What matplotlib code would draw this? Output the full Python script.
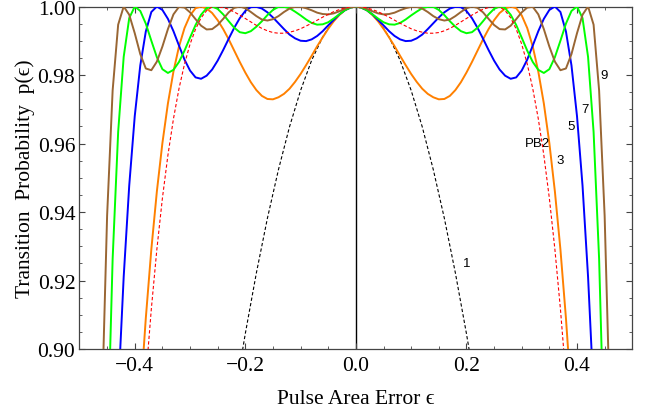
import numpy as np
import matplotlib.pyplot as plt
from matplotlib.ticker import MultipleLocator, FormatStrFormatter, FuncFormatter

plt.rcParams['font.family'] = ['Liberation Serif', 'DejaVu Serif']

# transition probability for eps >= 0 (curves are symmetric in eps)
# single pulse, sampled every 0.02
p_1 = [1.0, 0.9990, 0.9961, 0.9911, 0.9843, 0.9755, 0.9649, 0.9524, 0.9382,
       0.9222, 0.9045, 0.8853]
# composite sequences, sampled every 0.01
p_3 = [1.0, 0.9997, 0.9989, 0.9975, 0.9957, 0.9935, 0.9910, 0.9884, 0.9856,
       0.9829, 0.9803, 0.9780, 0.9760, 0.9745, 0.9735, 0.9729, 0.9730, 0.9739,
       0.9756, 0.9779, 0.9807, 0.9838, 0.9871, 0.9904, 0.9934, 0.9960, 0.9981,
       0.9994, 1.0, 0.9995, 0.9974, 0.9937, 0.9883, 0.9810, 0.9717, 0.9601,
       0.9460, 0.9291, 0.9090, 0.8854]
p_5 = [1.0, 0.9997, 0.9989, 0.9977, 0.9961, 0.9945, 0.9928, 0.9914, 0.9904,
       0.9899, 0.9900, 0.9907, 0.9918, 0.9934, 0.9951, 0.9968, 0.9983, 0.9994,
       0.9999, 0.9998, 0.9987, 0.9966, 0.9938, 0.9906, 0.9873, 0.9842, 0.9816,
       0.9798, 0.9789, 0.9793, 0.9813, 0.9845, 0.9886, 0.9928, 0.9964, 0.9990,
       1.0, 0.9984, 0.9927, 0.9828, 0.9680, 0.9477, 0.9211, 0.8872]
p_7 = [1.0, 0.9997, 0.9989, 0.9977, 0.9965, 0.9954, 0.9948, 0.9947, 0.9952,
       0.9962, 0.9974, 0.9985, 0.9995, 0.9999, 0.9999, 0.9990, 0.9975, 0.9957,
       0.9941, 0.9928, 0.9922, 0.9925, 0.9938, 0.9957, 0.9977, 0.9993, 1.0,
       0.9995, 0.9976, 0.9946, 0.9909, 0.9871, 0.9838, 0.9815, 0.9806, 0.9817,
       0.9852, 0.9900, 0.9950, 0.9987, 1.0, 0.9966, 0.9853, 0.9634, 0.9263,
       0.8673]
p_9 = [1.0, 0.9998, 0.9993, 0.9986, 0.9980, 0.9977, 0.9978, 0.9982, 0.9989,
       0.9995, 0.9999, 0.9999, 0.9994, 0.9984, 0.9972, 0.9963, 0.9959, 0.9962,
       0.9972, 0.9984, 0.9995, 1.0, 0.9996, 0.9983, 0.9964, 0.9946, 0.9934,
       0.9933, 0.9944, 0.9963, 0.9983, 0.9997, 0.9999, 0.9977, 0.9934, 0.9883,
       0.9839, 0.9814, 0.9819, 0.9861, 0.9922, 0.9976, 1.0, 0.9947, 0.9755,
       0.9389, 0.8793]
p_pb2 = [1.0, 0.9999, 0.9996, 0.9991, 0.9985, 0.9977, 0.9969, 0.9960, 0.9951,
         0.9943, 0.9935, 0.9929, 0.9925, 0.9922, 0.9922, 0.9924, 0.9929, 0.9936,
         0.9945, 0.9955, 0.9965, 0.9975, 0.9984, 0.9992, 0.9997, 1.0, 0.9999,
         0.9988, 0.9967, 0.9934, 0.9890, 0.9832, 0.9760, 0.9672, 0.9566, 0.9440,
         0.9291, 0.9117, 0.8916]

labels = ['1', '3', 'PB2', '5', '7', '9']
label_eps = [0.201, 0.369, 0.329, 0.390, 0.414, 0.449]
label_p = [0.9251, 0.9552, 0.9601, 0.9650, 0.9701, 0.9800]


def mirror(p, step):
    p = np.asarray(p)
    e = np.arange(len(p)) * step
    return np.concatenate([-e[:0:-1], e]), np.concatenate([p[:0:-1], p])


fig = plt.figure(figsize=(6.65, 4.10), dpi=100)
ax = fig.add_axes([0.1195, 0.1463, 0.8313, 0.8354])

ax.axvline(0, color='black', lw=1.0, zorder=1)

x, y = mirror(p_1, 0.02)
ax.plot(x, y, color='black', lw=0.8, ls=(0, (3, 2)), zorder=2)
x, y = mirror(p_3, 0.01)
ax.plot(x, y, color='#FF8000', lw=1.4, zorder=3)
x, y = mirror(p_5, 0.01)
ax.plot(x, y, color='#0000FF', lw=1.4, zorder=3)
x, y = mirror(p_7, 0.01)
ax.plot(x, y, color='#00FF00', lw=1.4, zorder=3)
x, y = mirror(p_9, 0.01)
ax.plot(x, y, color='#996633', lw=1.4, zorder=3)
x, y = mirror(p_pb2, 0.01)
ax.plot(x, y, color='#FF0000', lw=0.8, ls=(0, (3, 2)), zorder=4)

for t, e, p in zip(labels, label_eps, label_p):
    ax.text(e, p, t, ha='center', va='center', fontsize=9.5,
            family=['Liberation Sans', 'DejaVu Sans'])

ax.set_xlim(-0.5, 0.5)
ax.set_ylim(0.9, 1.0)
ax.xaxis.set_major_locator(MultipleLocator(0.2))
ax.xaxis.set_minor_locator(MultipleLocator(0.05))
ax.yaxis.set_major_locator(MultipleLocator(0.02))
ax.yaxis.set_minor_locator(MultipleLocator(0.005))
ax.xaxis.set_major_formatter(FuncFormatter(
    lambda v, _: ('%.1f' % (0.0 if abs(v) < 1e-9 else v)).replace('-', '\u2212')))
ax.yaxis.set_major_formatter(FormatStrFormatter('%.2f'))

ax.tick_params(which='both', direction='in', top=True, right=True,
               color='#444444', labelsize=15.5)
ax.tick_params(which='major', length=4.5, width=0.8, pad=5)
ax.tick_params(which='minor', length=2.5, width=0.6)
ax.tick_params(axis='y', which='major', pad=3)
for s in ax.spines.values():
    s.set_color('#444444')
    s.set_linewidth(0.9)

ax.set_xlabel('Pulse Area Error \u03f5', fontsize=15.5, labelpad=10)
ax.set_ylabel('Transition  Probability  p(\u03f5)', fontsize=15.5, labelpad=2)

fig.savefig('out.png', dpi=100)
